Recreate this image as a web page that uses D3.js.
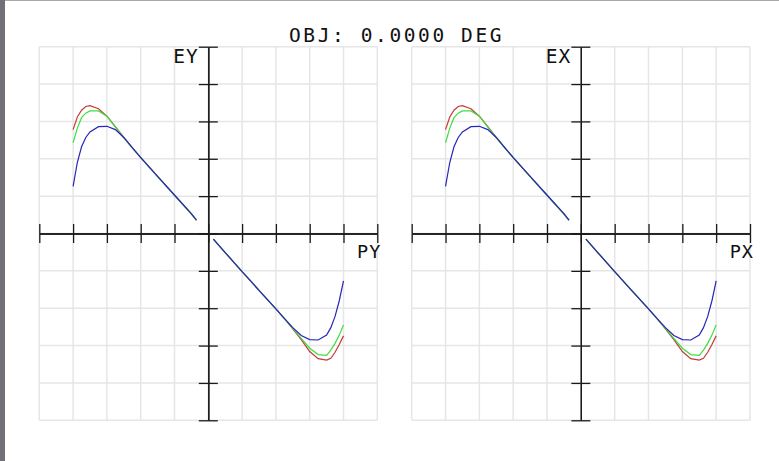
<!DOCTYPE html>
<html>
<head>
<meta charset="utf-8">
<script src="https://cdn.jsdelivr.net/npm/d3@7"></script>
<style>
  html, body { margin: 0; padding: 0; background: #fff; }
  svg { display: block; }
</style>
</head>
<body>
<svg id="chart" width="779" height="461"></svg>
<script>
// titulo y etiquetas
const titulo = "OBJ: 0.0000 DEG";
const etiquetasPaneles = [
    { eje: "EY", pupila: "PY" },
    { eje: "EX", pupila: "PX" }
];

// coordenadas de pupila (normalizadas)
const pupilaNeg = [-0.8, -0.775, -0.75, -0.725, -0.7, -0.65, -0.6, -0.55, -0.5, -0.45, -0.4, -0.3, -0.2, -0.1, -0.07];
const pupilaPos = [0.03, 0.1, 0.2, 0.3, 0.4, 0.45, 0.5, 0.55, 0.6, 0.65, 0.7, 0.725, 0.75, 0.775, 0.8];

// aberracion de rayo por longitud de onda
const rojoNeg = [0.0278, 0.0312, 0.0330, 0.0340, 0.0342, 0.0334, 0.0314, 0.0286, 0.0257, 0.0230, 0.0204, 0.0153, 0.0102, 0.0052, 0.0036];
const rojoPos = [-0.0015, -0.0051, -0.0102, -0.0152, -0.0202, -0.0228, -0.0255, -0.0284, -0.0316, -0.0335, -0.0339, -0.0334, -0.0318, -0.0297, -0.0274];
const verdeNeg = [0.0243, 0.0282, 0.0310, 0.0322, 0.0328, 0.0328, 0.0314, 0.0285, 0.0256, 0.0229, 0.0203, 0.0152, 0.0102, 0.0052, 0.0035];
const verdePos = [-0.0015, -0.0051, -0.0102, -0.0152, -0.0202, -0.0228, -0.0254, -0.0281, -0.0307, -0.0324, -0.0326, -0.0312, -0.0294, -0.0272, -0.0245];
const azulNeg = [0.0126, 0.0190, 0.0232, 0.0257, 0.0272, 0.0286, 0.0287, 0.0278, 0.0257, 0.0230, 0.0203, 0.0153, 0.0103, 0.0053, 0.0036];
const azulPos = [-0.0015, -0.0051, -0.0102, -0.0152, -0.0202, -0.0227, -0.0252, -0.0273, -0.0284, -0.0285, -0.0272, -0.0252, -0.0222, -0.0180, -0.0127];

const ticksPupila = d3.range(-5, 6).map(d => d / 5);
const ticksAberr = d3.range(-5, 6).map(d => d / 100);

const series = [
    { color: "#c43a3a", neg: rojoNeg, pos: rojoPos },
    { color: "#3ede3e", neg: verdeNeg, pos: verdePos },
    { color: "#2626b8", neg: azulNeg, pos: azulPos }
];

const svg = d3.select("#chart");

// marco de la ventana
svg.append("rect").attr("x", 0).attr("y", 0).attr("width", 779).attr("height", 1).attr("fill", "#a8a8a8");
svg.append("rect").attr("x", 0).attr("y", 0).attr("width", 5).attr("height", 461).attr("fill", "#707078");

svg.append("text")
    .attr("x", 289)
    .attr("y", 41.7)
    .attr("font-family", "DejaVu Sans Mono, monospace")
    .attr("font-size", 19.5)
    .attr("letter-spacing", 2.6)
    .attr("fill", "#111")
    .text(titulo);

const paneles = [[39.3, 377.3], [411.7, 750]];
const y = d3.scaleLinear().domain([-0.05, 0.05]).range([420.3, 46.7]);

paneles.forEach((rango, i) => {
    const x = d3.scaleLinear().domain([-1, 1]).range(rango);
    const g = svg.append("g");

    // rejilla
    g.selectAll(".vgrid").data(ticksPupila).enter().append("line")
        .attr("x1", d => x(d)).attr("x2", d => x(d))
        .attr("y1", y(-0.05)).attr("y2", y(0.05))
        .attr("stroke", "#e6e6e6").attr("stroke-width", 1.5);
    g.selectAll(".hgrid").data(ticksAberr).enter().append("line")
        .attr("x1", x(-1)).attr("x2", x(1))
        .attr("y1", d => y(d)).attr("y2", d => y(d))
        .attr("stroke", "#e6e6e6").attr("stroke-width", 1.5);

    // ejes con marcas a ambos lados
    const ejes = [
        [d3.axisBottom(x).tickValues(ticksPupila), `translate(0,${y(0)})`],
        [d3.axisTop(x).tickValues(ticksPupila), `translate(0,${y(0)})`],
        [d3.axisLeft(y).tickValues(ticksAberr), `translate(${x(0)},0)`],
        [d3.axisRight(y).tickValues(ticksAberr), `translate(${x(0)},0)`]
    ];
    ejes.forEach(([eje, t]) => {
        const a = g.append("g").attr("transform", t)
            .call(eje.tickSize(9.5).tickSizeOuter(0).tickFormat(""));
        a.selectAll("path, line").attr("stroke", "#1a1a1a").attr("stroke-width", 1.3);
    });

    // curvas
    const linea = d3.line().x(d => x(d[0])).y(d => y(d[1]));
    series.forEach(s => {
        [[pupilaNeg, s.neg], [pupilaPos, s.pos]].forEach(([px, vals]) => {
            g.append("path")
                .datum(d3.zip(px, vals))
                .attr("d", linea)
                .attr("fill", "none")
                .attr("stroke", s.color)
                .attr("stroke-width", 1.2);
        });
    });

    // etiquetas de ejes
    const et = etiquetasPaneles[i];
    g.append("text")
        .attr("x", x(0) - 35)
        .attr("y", 63.3)
        .attr("font-family", "DejaVu Sans Mono, monospace")
        .attr("font-size", 19.5)
        .attr("letter-spacing", 1)
        .attr("fill", "#111")
        .text(et.eje);
    g.append("text")
        .attr("x", x(1) - 20.3)
        .attr("y", 258.3)
        .attr("font-family", "DejaVu Sans Mono, monospace")
        .attr("font-size", 18.5)
        .attr("letter-spacing", 1)
        .attr("fill", "#111")
        .text(et.pupila);
});
</script>
</body>
</html>
